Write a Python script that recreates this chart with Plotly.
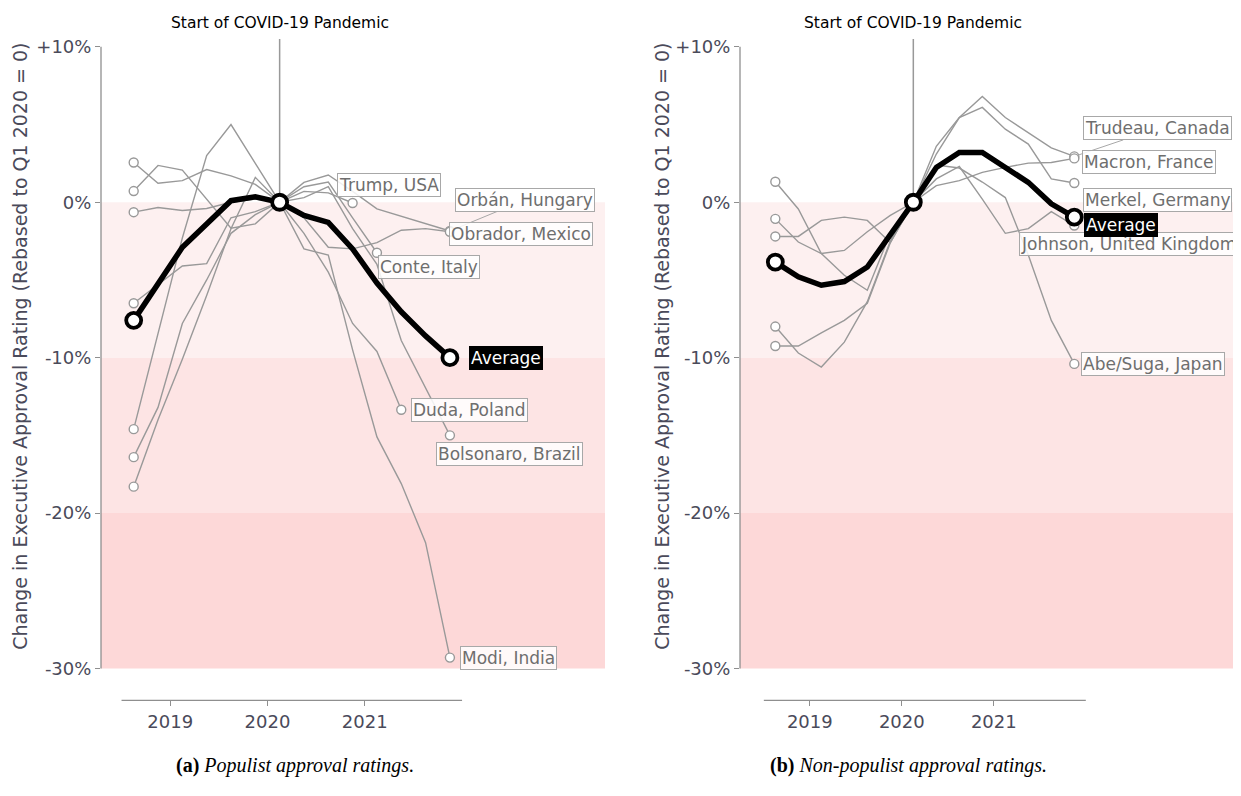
import plotly.graph_objects as go

# ---------------- data ----------------
quarters = [2018.625, 2018.875, 2019.125, 2019.375, 2019.625, 2019.875, 2020.125,
            2020.375, 2020.625, 2020.875, 2021.125, 2021.375, 2021.625, 2021.875]
covid_start = 2020.125

# Populist leaders (change vs Q1 2020, percentage points)
trump = [-0.64, -0.34, -0.53, -0.4, 0.0, 0.2, 0.0, 0.7, 0.6, -0.05, None, None, None, None]
orban = [2.56, 1.22, 1.39, 2.1, 1.7, 1.15, 0.0, 1.28, 1.75, 0.7, -0.43, -0.9, -1.35, -1.85]
obrador = [0.72, 2.37, 2.07, 0.2, -1.67, -1.39, 0.0, -1.0, -2.9, -3.0, -2.6, -1.8, -1.7, -1.9]
conte = [-6.5, -5.3, -4.1, -3.95, -1.0, -0.6, 0.0, 1.0, 1.3, -1.0, -3.25, None, None, None]
duda = [-18.3, -14.0, -10.1, -6.0, -1.7, 1.6, 0.0, -2.0, -4.5, -7.8, -9.6, -13.35, None, None]
bolsonaro = [-14.6, -8.5, -2.3, 3.0, 5.0, 2.5, 0.0, 0.3, 1.0, -1.7, -4.0, -8.9, -12.0, -15.0]
modi = [-16.4, -13.2, -7.8, -5.0, -2.0, -0.8, 0.0, -3.0, -3.4, -9.5, -15.1, -18.1, -21.9, -29.3]
avg_populist = [-7.6, -5.3, -2.9, -1.4, 0.1, 0.35, 0.0, -0.85, -1.3, -3.0, -5.2, -7.05, -8.6, -10.0]

# Non-populist leaders
trudeau = [1.32, -0.43, -3.3, -4.7, -5.66, -2.0, 0.0, 3.6, 5.45, 6.8, 5.45, 4.5, 3.5, 2.95]
merkel = [-1.07, -2.56, -3.3, -3.1, -1.9, -0.85, 0.0, 3.1, 5.45, 6.1, 4.7, 3.74, 1.5, 1.24]
macron = [-9.25, -9.25, -8.4, -7.6, -6.5, -2.6, 0.0, 1.07, 1.39, 1.92, 2.24, 2.52, 2.56, 2.82]
johnson = [-8.0, -9.7, -10.6, -9.0, -6.4, -2.5, 0.0, 1.5, 2.3, 0.2, -2.0, -1.7, -0.6, -1.5]
abe = [-2.2, -2.2, -1.17, -0.96, -1.17, -2.6, 0.0, 2.4, 2.2, 1.3, 0.3, -3.4, -7.6, -10.4]
avg_nonpopulist = [-3.85, -4.8, -5.34, -5.1, -4.17, -2.1, 0.0, 2.24, 3.2, 3.2, 2.2, 1.28, -0.1, -0.96]

populist_series = [trump, orban, obrador, conte, duda, bolsonaro, modi]
nonpop_series = [trudeau, macron, merkel, johnson, abe]

ytick_vals = [10, 0, -10, -20, -30]
ytick_text = ["+10%", "0%", "-10%", "-20%", "-30%"]
xtick_vals = [2019, 2020, 2021]
xtick_text = ["2019", "2020", "2021"]

# ---------------- style ----------------
GRAY = "#999999"
TICKCOL = "#4a4a5a"
LABEL_TXT = "#6e6e6e"
LABEL_BORDER = "#a8a8a8"
OFF = 8                      # page body margin in the browser
FW, FH = 1241 - OFF, 796 - OFF


def px(xp):
    return (xp - OFF) / FW


def py(yp):
    return 1 - (yp - OFF) / FH


Y_RANGE = [-32.05, 10.51]
YDOM = [py(700), py(36)]
X1_RANGE = [2018.289, 2023.469]
X2_RANGE = [2018.241, 2023.687]
X1_DOM = [px(101), px(605)]
X2_DOM = [px(740), 1.0]

fig = go.Figure()


def valid_ends(vals):
    idx = [i for i, v in enumerate(vals) if v is not None]
    return idx[0], idx[-1]


def add_panel(series, avg, xa, ya):
    for vals in series:
        fig.add_trace(go.Scatter(x=quarters, y=vals, mode="lines", xaxis=xa, yaxis=ya,
                                 line=dict(color=GRAY, width=1.4), hoverinfo="skip",
                                 showlegend=False, connectgaps=False))
    for vals in series:
        i0, i1 = valid_ends(vals)
        fig.add_trace(go.Scatter(x=[quarters[i0], quarters[i1]], y=[vals[i0], vals[i1]],
                                 mode="markers", xaxis=xa, yaxis=ya, showlegend=False,
                                 marker=dict(size=9, color="white",
                                             line=dict(color=GRAY, width=1.4))))
    fig.add_trace(go.Scatter(x=quarters, y=avg, mode="lines", xaxis=xa, yaxis=ya,
                             line=dict(color="black", width=5.5), showlegend=False))
    fig.add_trace(go.Scatter(x=[quarters[0], quarters[6], quarters[-1]],
                             y=[avg[0], avg[6], avg[-1]], mode="markers",
                             xaxis=xa, yaxis=ya, showlegend=False,
                             marker=dict(size=15, color="white",
                                         line=dict(color="black", width=3.8))))


add_panel(populist_series, avg_populist, "x", "y")
add_panel(nonpop_series, avg_nonpopulist, "x2", "y2")

shapes = []
for xr, yr in [("x", "y"), ("x2", "y2")]:
    for (a, b, c) in [(0, -10, "#fdf0f0"), (-10, -20, "#fde4e4"), (-20, -30, "#fdd8d8")]:
        shapes.append(dict(type="rect", xref=f"{xr} domain", yref=yr, x0=0, x1=1,
                           y0=a, y1=b, fillcolor=c, line=dict(width=0), layer="below"))
    shapes.append(dict(type="line", xref=xr, yref=yr, x0=covid_start, x1=covid_start,
                       y0=0, y1=Y_RANGE[1], line=dict(color=GRAY, width=1.5), layer="below"))
    shapes.append(dict(type="line", xref=f"{xr} domain", yref=yr, x0=0, x1=0,
                       y0=-30, y1=10, line=dict(color="#8f8f8f", width=1.3)))
    shapes.append(dict(type="line", xref=xr, yref=f"{yr} domain", x0=2018.5, x1=2022.0,
                       y0=0, y1=0, line=dict(color="#8f8f8f", width=1.3)))

annotations = []


def label(text, xr, yr, vals, ax, ay, arrow=False, avg=False):
    i0, i1 = valid_ends(vals)
    annotations.append(dict(
        text=text, x=quarters[i1], y=vals[i1], xref=xr, yref=yr,
        showarrow=True, ax=ax, ay=ay, arrowhead=0, arrowwidth=1,
        arrowcolor=(LABEL_BORDER if arrow else "rgba(0,0,0,0)"), standoff=4,
        font=dict(family="DejaVu Sans", size=17, color=("white" if avg else LABEL_TXT)),
        bgcolor=("black" if avg else "rgba(255,255,255,0.85)"),
        bordercolor=("black" if avg else LABEL_BORDER), borderwidth=1, borderpad=1))


label("Trump, USA", "x", "y", trump, 36, -18)
label("Orbán, Hungary", "x", "y", orban, 75, -31, arrow=True)
label("Obrador, Mexico", "x", "y", obrador, 71, 2)
label("Conte, Italy", "x", "y", conte, 52, 14)
label("Duda, Poland", "x", "y", duda, 68, 0)
label("Bolsonaro, Brazil", "x", "y", bolsonaro, 60, 19)
label("Modi, India", "x", "y", modi, 59, 0)
label("Average", "x", "y", avg_populist, 56, 0, avg=True)

label("Trudeau, Canada", "x2", "y2", trudeau, 83, -28, arrow=True)
label("Macron, France", "x2", "y2", macron, 75, 4)
label("Merkel, Germany", "x2", "y2", merkel, 83, 17)
label("Johnson, United Kingdom", "x2", "y2", johnson, 54, 18)
label("Abe/Suga, Japan", "x2", "y2", abe, 79, 0)
label("Average", "x2", "y2", avg_nonpopulist, 47, 8, avg=True)

ytitle = "Change in Executive Approval Rating (Rebased to Q1 2020 = 0)"
for xp in [20, 662]:
    annotations.append(dict(text=ytitle, xref="paper", yref="paper", x=px(xp), y=py(345),
                            textangle=-90, showarrow=False, xanchor="center", yanchor="middle",
                            font=dict(family="DejaVu Sans", size=19, color=TICKCOL)))
for xr in ["x", "x2"]:
    annotations.append(dict(text="Start of COVID-19 Pandemic", xref=xr, yref="paper",
                            x=covid_start, y=py(20), showarrow=False,
                            xanchor="center", yanchor="middle",
                            font=dict(family="DejaVu Sans", size=15.5, color="black")))

annotations.append(dict(text="<b>(a)</b> <i>Populist approval ratings.</i>", xref="paper",
                        yref="paper", x=px(295), y=py(765), showarrow=False,
                        xanchor="center", yanchor="middle",
                        font=dict(family="Liberation Serif", size=20, color="black")))
annotations.append(dict(text="<b>(b)</b> <i>Non-populist approval ratings.</i>", xref="paper",
                        yref="paper", x=px(908), y=py(765), showarrow=False,
                        xanchor="center", yanchor="middle",
                        font=dict(family="Liberation Serif", size=20, color="black")))

axis_common = dict(showgrid=False, zeroline=False, showline=False, ticks="outside",
                   ticklen=5, tickcolor="#8f8f8f", tickwidth=1.2,
                   tickfont=dict(family="DejaVu Sans", size=18, color=TICKCOL))

fig.update_layout(
    width=FW, height=FH, margin=dict(l=0, r=0, t=0, b=0),
    paper_bgcolor="white", plot_bgcolor="white",
    xaxis=dict(domain=X1_DOM, range=X1_RANGE, anchor="y", tickvals=xtick_vals,
               ticktext=xtick_text, **axis_common),
    yaxis=dict(domain=YDOM, range=Y_RANGE, anchor="x", tickvals=ytick_vals,
               ticktext=ytick_text, **axis_common),
    xaxis2=dict(domain=X2_DOM, range=X2_RANGE, anchor="y2", tickvals=xtick_vals,
                ticktext=xtick_text, **axis_common),
    yaxis2=dict(domain=YDOM, range=Y_RANGE, anchor="x2", tickvals=ytick_vals,
                ticktext=ytick_text, **axis_common),
    shapes=shapes, annotations=annotations, showlegend=False,
)

fig.write_html("out.html")
